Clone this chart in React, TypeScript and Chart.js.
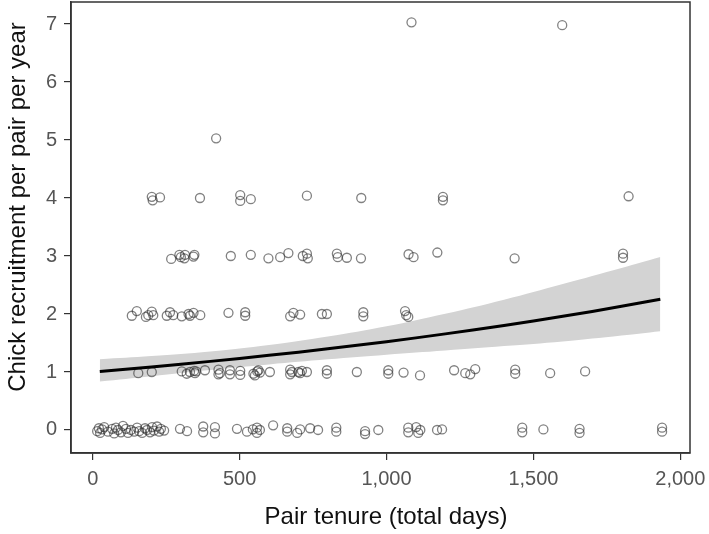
import React, { useEffect, useRef } from 'react';
import { Chart, registerables } from 'chart.js';

Chart.register(...registerables);

// Observed pairs: pair tenure (days) and chick recruitment per pair per year (jittered)
const tenureDays = [
  15, 21, 25, 32, 39, 52, 66, 73, 79, 86, 96, 103, 113, 120, 130, 141, 151, 158, 168, 178, 185, 195, 202, 208, 219, 226, 232, 243,
  297, 321, 376, 376, 416, 416, 491, 525, 545, 559, 559, 569, 614, 662, 662, 696, 706, 740, 767, 829, 829, 927, 927, 972,
  1074, 1074, 1101, 1108, 1115, 1172, 1189, 1462, 1462, 1534, 1657, 1657, 1938, 1938,
  155, 201, 303, 320, 331, 345, 348, 352, 382, 428, 428, 433, 467, 467, 502, 502, 547, 552, 560, 564, 569, 603, 672, 672,
  678, 700, 706, 712, 729, 797, 797, 899, 1006, 1006, 1058, 1114, 1230, 1268, 1285, 1302, 1438, 1438, 1557, 1676,
  133, 150, 181, 189, 201, 206, 252, 263, 274, 303, 326, 331, 343, 366, 462, 519, 519, 672, 683, 706, 780, 797, 921, 921,
  1063, 1067, 1074,
  267, 295, 300, 312, 314, 343, 346, 470, 538, 598, 638, 666, 715, 729, 732, 831, 834, 865, 913, 1075, 1092, 1173, 1436,
  1805, 1805,
  201, 204, 229, 365, 502, 502, 538, 729, 914, 1192, 1192, 1824,
  420, 1085, 1598,
];
const recruitment = [
  -0.02, 0.03, -0.05, 0.01, 0.05, -0.03, 0.02, -0.06, 0.04, 0.0, -0.04, 0.07, 0.02, -0.05, 0.0, -0.03, 0.04, -0.02, -0.05, 0.03, 0.0, -0.04, 0.05, -0.01, 0.06, -0.03, 0.02, -0.01,
  0.02, -0.02, 0.06, -0.04, 0.05, -0.06, 0.02, -0.03, 0.01, 0.04, -0.05, 0.0, 0.08, 0.03, -0.03, -0.05, 0.01, 0.03, 0.0, 0.04, -0.03, -0.02, -0.07, 0.0,
  0.04, -0.04, 0.05, -0.05, 0.0, 0.0, 0.01, 0.04, -0.04, 0.01, 0.02, -0.05, 0.04, -0.03,
  0.98, 1.0, 1.01, 0.97, 1.0, 1.02, 0.98, 1.01, 1.03, 1.04, 0.96, 0.98, 1.03, 0.96, 1.02, 0.95, 0.97, 0.94, 1.01, 1.03, 0.99, 1.0, 1.04, 0.96,
  1.0, 1.0, 0.98, 1.02, 1.0, 1.03, 0.97, 1.0, 1.03, 0.97, 0.99, 0.94, 1.03, 0.98, 0.96, 1.05, 1.04, 0.97, 0.98, 1.01,
  1.97, 2.05, 1.95, 1.98, 2.04, 1.98, 1.97, 2.03, 1.98, 1.96, 2.0, 1.97, 2.02, 1.98, 2.02, 2.03, 1.97, 1.96, 2.02, 1.99, 2.0, 2.0, 2.03, 1.96,
  2.05, 1.98, 1.95,
  2.95, 3.02, 2.98, 2.96, 3.02, 2.99, 3.02, 3.0, 3.02, 2.96, 2.98, 3.05, 3.0, 3.04, 2.96, 3.04, 2.98, 2.97, 2.96, 3.03, 2.98, 3.06, 2.96,
  3.04, 2.97,
  4.02, 3.96, 4.01, 4.0, 4.05, 3.95, 3.98, 4.04, 4.0, 4.02, 3.96, 4.03,
  5.03, 7.03, 6.98,
];

// Fitted curve and 95% confidence band
const fitDays = [24, 200, 400, 600, 800, 1000, 1200, 1400, 1600, 1800, 1932];
const fitMean = [1.01, 1.088, 1.183, 1.287, 1.4, 1.523, 1.657, 1.802, 1.96, 2.133, 2.255];
const fitLower = [0.835, 0.927, 1.034, 1.13, 1.218, 1.298, 1.37, 1.446, 1.527, 1.629, 1.704];
const fitUpper = [1.221, 1.276, 1.354, 1.465, 1.611, 1.788, 2.004, 2.246, 2.517, 2.795, 2.983];

const xTicks = [0, 500, 1000, 1500, 2000];
const yTicks = [0, 1, 2, 3, 4, 5, 6, 7];

const xTitle = 'Pair tenure (total days)';
const yTitle = 'Chick recruitment per pair per year';

const FONT = "'Liberation Sans', Arial, sans-serif";

function fmt(v: number): string {
  const s = String(Math.round(v));
  return s.replace(/\B(?=(\d{3})+(?!\d))/g, ',');
}

// keep the plot box top edge close to the canvas top, like the reference
const areaPlugin = {
  id: 'areaTop',
  afterLayout(chart: any) {
    const a = chart.chartArea;
    const ys = chart.scales.y;
    a.top = 2;
    a.height = a.bottom - a.top;
    ys.top = 2;
    ys.height = ys.bottom - ys.top;
    ys.configure();
  },
};

const boxPlugin = {
  id: 'plotBox',
  afterDatasetsDraw(chart: any) {
    const { ctx, chartArea: a } = chart;
    ctx.save();
    ctx.strokeStyle = '#333333';
    ctx.lineWidth = 1.5;
    ctx.strokeRect(a.left, a.top, a.right - a.left, a.bottom - a.top);
    ctx.restore();
  },
};

const titlePlugin = {
  id: 'axisTitles',
  afterDraw(chart: any) {
    const { ctx } = chart;
    ctx.save();
    ctx.font = `24px ${FONT}`;
    ctx.fillStyle = '#111111';
    ctx.textAlign = 'center';
    ctx.textBaseline = 'middle';
    ctx.fillText(xTitle, 386, 517);
    ctx.translate(18, 207);
    ctx.rotate(-Math.PI / 2);
    ctx.fillText(yTitle, 0, 0);
    ctx.restore();
  },
};

export default function App() {
  const ref = useRef<HTMLCanvasElement | null>(null);

  useEffect(() => {
    if (!ref.current) return;
    const pts = tenureDays.map((x, i) => ({ x, y: recruitment[i] }));
    const up = fitDays.map((x, i) => ({ x, y: fitUpper[i] }));
    const lo = fitDays.map((x, i) => ({ x, y: fitLower[i] }));
    const mean = fitDays.map((x, i) => ({ x, y: fitMean[i] }));

    const chart = new Chart(ref.current, {
      type: 'scatter',
      data: {
        datasets: [
          {
            type: 'line',
            data: up,
            borderWidth: 0,
            pointRadius: 0,
            tension: 0.4,
            fill: '+1',
            backgroundColor: '#d3d3d3',
            borderColor: 'rgba(0,0,0,0)',
            order: 2,
          } as any,
          {
            type: 'line',
            data: lo,
            borderWidth: 0,
            pointRadius: 0,
            tension: 0.4,
            fill: false,
            borderColor: 'rgba(0,0,0,0)',
            order: 2,
          } as any,
          {
            type: 'scatter',
            data: pts,
            pointRadius: 4.5,
            pointBorderWidth: 1.3,
            pointBackgroundColor: 'rgba(0,0,0,0)',
            pointBorderColor: 'rgba(45,45,45,0.6)',
            order: 1,
          } as any,
          {
            type: 'line',
            data: mean,
            borderWidth: 3,
            borderColor: '#000000',
            pointRadius: 0,
            tension: 0.4,
            fill: false,
            order: 0,
          } as any,
        ],
      },
      options: {
        animation: false,
        responsive: false,
        maintainAspectRatio: false,
        events: [],
        layout: { padding: { top: 0, right: 19, left: 0, bottom: 0 } },
        plugins: { legend: { display: false }, tooltip: { enabled: false } },
        scales: {
          x: {
            type: 'linear',
            min: -74,
            max: 2033,
            afterBuildTicks: (s: any) => {
              s.ticks = xTicks.map((v) => ({ value: v }));
            },
            afterFit: (s: any) => {
              s.height = 81;
              s.paddingLeft = 0;
              s.paddingRight = 0;
            },
            grid: { display: true, drawOnChartArea: false, drawTicks: true, tickLength: 7, color: '#333333', lineWidth: 1.2 },
            border: { display: true, color: '#333333', width: 1.5 },
            ticks: {
              font: { family: FONT, size: 20 },
              color: '#555555',
              padding: 7,
              maxRotation: 0,
              autoSkip: false,
              callback: (v: any) => fmt(Number(v)),
            },
            title: { display: false },
          },
          y: {
            type: 'linear',
            min: -0.397,
            max: 7.38,
            afterBuildTicks: (s: any) => {
              s.ticks = yTicks.map((v) => ({ value: v }));
            },
            afterFit: (s: any) => {
              s.width = 71;
              s.paddingTop = 0;
              s.paddingBottom = 0;
            },
            grid: { display: true, drawOnChartArea: false, drawTicks: true, tickLength: 7, color: '#333333', lineWidth: 1.2 },
            border: { display: true, color: '#333333', width: 1.5 },
            ticks: {
              font: { family: FONT, size: 20 },
              color: '#555555',
              padding: 7,
              autoSkip: false,
              callback: (v: any) => String(v),
            },
            title: { display: false },
          },
        },
      },
      plugins: [areaPlugin, boxPlugin, titlePlugin],
    } as any);

    return () => chart.destroy();
  }, []);

  return (
    <div style={{ position: 'fixed', left: 0, top: 0, width: 709, height: 534, background: '#ffffff' }}>
      <canvas ref={ref} width={709} height={534} style={{ width: 709, height: 534, display: 'block' }} />
    </div>
  );
}
